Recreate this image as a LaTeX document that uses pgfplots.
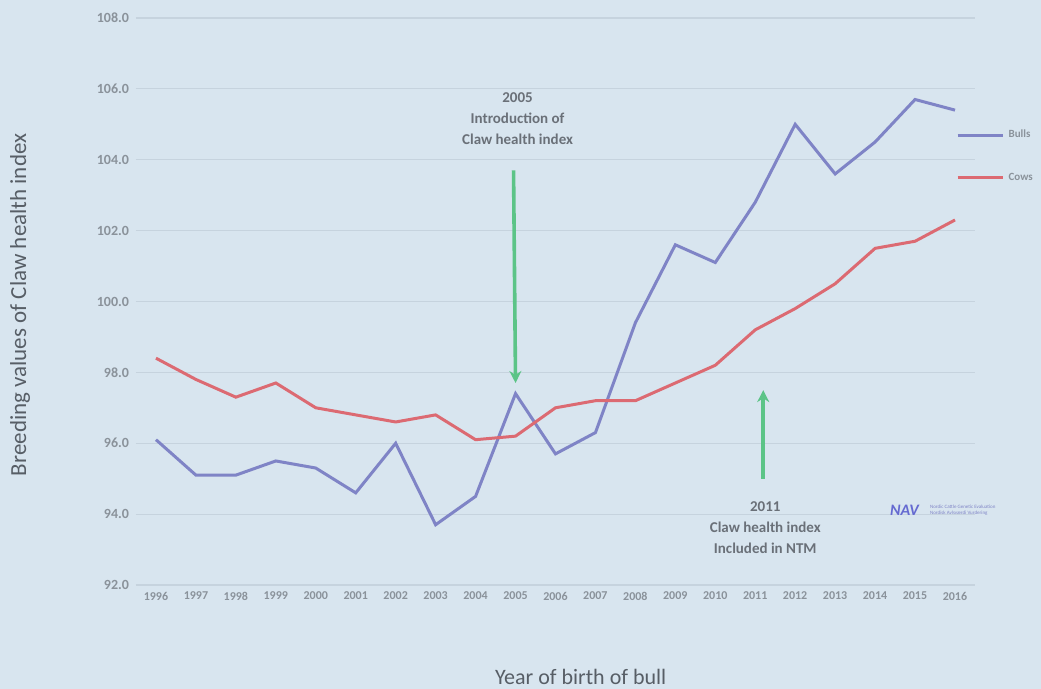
\documentclass[border=0pt]{standalone}
\usepackage{pgfplots}
\pgfplotsset{compat=1.18}
\usepackage{fontspec}
\setmainfont{Carlito}
\usetikzlibrary{arrows.meta}

\definecolor{bg}{HTML}{D8E5EF}
\definecolor{gridc}{HTML}{C6D3DE}
\definecolor{bullc}{HTML}{7F84C6}
\definecolor{cowc}{HTML}{DC6A72}
\definecolor{arrowc}{HTML}{5CC487}
\definecolor{tickc}{HTML}{8A929A}
\definecolor{labc}{HTML}{575E66}
\definecolor{annc}{HTML}{6A7078}

\begin{document}
\begin{tikzpicture}
\path[use as bounding box, fill=bg] (0,0) rectangle (520.5pt,344.5pt);
\begin{axis}[
    at={(68pt,52pt)}, anchor=south west,
    scale only axis,
    width=419.5pt, height=283.5pt,
    xmin=1995.5, xmax=2016.5,
    ymin=92, ymax=108,
    xtick={1996,1997,...,2016},
    ytick={92,94,...,108},
    xticklabel style={font=\fontsize{6}{7}\selectfont\bfseries, text=tickc},
    yticklabel style={font=\fontsize{7}{8}\selectfont\bfseries, text=tickc},
    y tick label style={/pgf/number format/.cd, fixed, fixed zerofill, precision=1},
    /pgf/number format/assume math mode=true,
    xticklabel={\pgfmathprintnumber[1000 sep={}]{\tick}},
    axis line style={draw=none},
    major tick length=0pt,
    ymajorgrids=true,
    grid style={gridc, line width=0.6pt},
    xlabel={Year of birth of bull},
    ylabel={Breeding values of Claw health index},
    xlabel style={font=\fontsize{11}{13}\selectfont, text=labc, at={(axis description cs:0.53,-0.162)}, anchor=center},
    ylabel style={font=\fontsize{11.5}{13}\selectfont, text=labc, at={(axis description cs:-0.138,0.494)}, anchor=center},
    legend style={at={(axis description cs:0.977,0.81)}, anchor=north west,
        draw=none, fill=none, font=\fontsize{5.5}{6}\selectfont\bfseries, text=tickc,
        row sep=12pt, inner sep=0pt},
    legend cell align=left,
    legend image code/.code={\draw[#1] (0cm,0cm) -- (0.8cm,0cm);},
    clip=false,
]
\addplot[bullc, line width=1.5pt] coordinates {
 (1996,96.1)(1997,95.1)(1998,95.1)(1999,95.5)(2000,95.3)(2001,94.6)(2002,96.0)
 (2003,93.7)(2004,94.5)(2005,97.4)(2006,95.7)(2007,96.3)(2008,99.4)(2009,101.6)
 (2010,101.1)(2011,102.8)(2012,105.0)(2013,103.6)(2014,104.5)(2015,105.7)(2016,105.4)
};
\addlegendentry{Bulls}
\addplot[cowc, line width=1.5pt] coordinates {
 (1996,98.4)(1997,97.8)(1998,97.3)(1999,97.7)(2000,97.0)(2001,96.8)(2002,96.6)
 (2003,96.8)(2004,96.1)(2005,96.2)(2006,97.0)(2007,97.2)(2008,97.2)(2009,97.7)
 (2010,98.2)(2011,99.2)(2012,99.8)(2013,100.5)(2014,101.5)(2015,101.7)(2016,102.3)
};
\addlegendentry{Cows}
% annotations
\draw[arrowc, line width=1.8pt, -{Stealth[length=6pt,width=6pt]}] (axis cs:2004.95,103.7) -- (axis cs:2005.0,97.7);
\node[align=center, font=\fontsize{7.5}{10.5}\selectfont\bfseries, text=annc, anchor=north] at (axis cs:2005.05,106.1) {2005\\Introduction of\\Claw health index};
\draw[arrowc, line width=1.8pt, -{Stealth[length=6pt,width=6pt]}] (axis cs:2011.2,95.0) -- (axis cs:2011.2,97.5);
\node[align=center, font=\fontsize{7.5}{10.5}\selectfont\bfseries, text=annc, anchor=north] at (axis cs:2011.25,94.55) {2011\\Claw health index\\Included in NTM};
\node[font=\fontsize{8}{9}\selectfont\bfseries\itshape, text=bullc!80!blue, anchor=west] at (axis cs:2014.2,94.1) {NAV};
\node[font=\fontsize{2.5}{3}\selectfont, text=bullc, anchor=west, align=left] at (axis cs:2015.2,94.1) {Nordic Cattle Genetic Evaluation\\Nordisk Avlsværdi Vurdering};
\end{axis}
\end{tikzpicture}
\end{document}
